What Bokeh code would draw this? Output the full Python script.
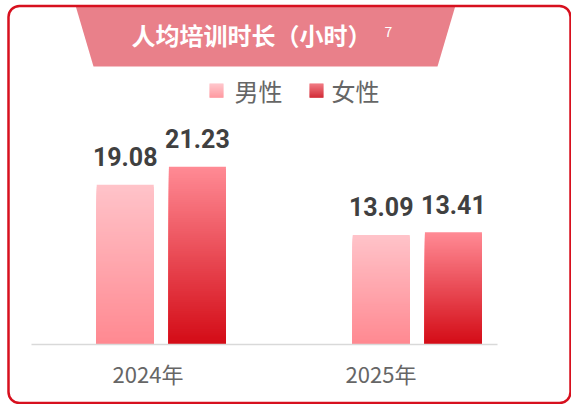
import numpy as np
from bokeh.plotting import figure
from bokeh.models import FactorRange, Range1d, ColumnDataSource
from bokeh.transform import dodge
from bokeh.core.properties import value
from bokeh.embed import file_html
from bokeh.resources import INLINE

# ---------------- data ----------------
years = ["2024年", "2025年"]
male = [19.08, 13.09]
female = [21.23, 13.41]
series_names = ["男性", "女性"]
title_text = "人均培训时长（小时）"
note_mark = "7"

# ---------------- styles ----------------
W, H = 571, 404
PAD = 0.1152
Y0, Y1 = -7.17, 41.10
PX_PER_UNIT = H / (Y1 - Y0)
MALE_TOP, MALE_BOT = "#ffc3c9", "#ff8890"
FEM_TOP, FEM_BOT = "#ff8a94", "#d30a15"
SW_MALE_TOP, SW_MALE_BOT = "#ffc0c6", "#ff8c94"
SW_FEM_TOP, SW_FEM_BOT = "#f06a74", "#cc0f1c"
CARD_RED = "#d7101e"
BANNER = "#e9808a"
N_SLICES = 80


def _rgb(h):
    h = h.lstrip("#")
    return np.array([int(h[i:i + 2], 16) for i in (0, 2, 4)], dtype=float)


def mix(c_bottom, c_top, t):
    c = _rgb(c_bottom) * (1 - t) + _rgb(c_top) * t
    return "#%02x%02x%02x" % tuple(int(round(v)) for v in c)


def sx(px):
    """canvas pixel -> synthetic coordinate of the categorical x range"""
    span = len(years) + 2 * PAD
    return -PAD + np.asarray(px, dtype=float) / W * span


p = figure(width=W, height=H,
           x_range=FactorRange(factors=years, range_padding=PAD,
                               range_padding_units="absolute"),
           y_range=Range1d(Y0, Y1),
           min_border=0, toolbar_location=None, output_backend="svg",
           x_axis_location=None, y_axis_location=None,
           background_fill_color="white", border_fill_color="white",
           outline_line_color=None)
p.grid.visible = False
p.extra_x_ranges = {"lab": FactorRange(factors=years, range_padding=0.2253,
                                       range_padding_units="absolute")}
p.extra_y_ranges = {"px": Range1d(H, 0)}

# card background
p.quad(left=sx(8), right=sx(570), top=5.5, bottom=402.5,
       y_range_name="px", fill_color="white", line_color=None, border_radius=11)

# title banner
p.patch(x=sx([75, 455, 437, 93]), y=[5, 5, 66, 66], y_range_name="px",
        fill_color=BANNER, line_color=None)
p.text(x=sx([251]), y=[34], text=[title_text], y_range_name="px",
       text_align="center", text_baseline="middle", text_color="white",
       text_font=value("Noto Sans CJK SC"), text_font_size="24px",
       text_font_style="bold")
p.text(x=sx([388]), y=[31], text=[note_mark], y_range_name="px",
       text_align="center", text_baseline="middle", text_color="white",
       text_font=value("Noto Sans CJK SC"), text_font_size="14px")

# legend (gradient swatches)
sw = {"l": [], "r": [], "t": [], "b": [], "c": []}
for (x0, ctop, cbot) in [(209, SW_MALE_TOP, SW_MALE_BOT), (309, SW_FEM_TOP, SW_FEM_BOT)]:
    y_top, y_bot = 83.0, 97.0
    n = 14
    for k in range(n):
        t0 = k / n
        t1 = (k + 1) / n
        sw["l"].append(float(sx(x0)))
        sw["r"].append(float(sx(x0 + 14)))
        sw["t"].append(y_top + (y_bot - y_top) * t0)
        sw["b"].append(y_top + (y_bot - y_top) * t1 + 0.3)
        sw["c"].append(mix(cbot, ctop, 1 - (t0 + t1) / 2))
p.quad(left="l", right="r", top="t", bottom="b", fill_color="c", line_color=None,
       source=ColumnDataSource(sw), y_range_name="px")
p.text(x=sx([234, 331]), y=[89.5, 89.5], text=series_names, y_range_name="px",
       text_align="left", text_baseline="middle", text_color="#666666",
       text_font=value("Noto Sans CJK SC"), text_font_size="24px")

# bars as gradient stacks
bw = 0.2227
gap_units = 28 / PX_PER_UNIT
for vals, ctop, cbot, off in [(male, MALE_TOP, MALE_BOT, -0.128),
                              (female, FEM_TOP, FEM_BOT, 0.154)]:
    d = {"year": [], "top": [], "color": []}
    for k in range(N_SLICES):
        f = 1 - k / N_SLICES
        for yr, v in zip(years, vals):
            d["year"].append(yr)
            d["top"].append(f * v)
            d["color"].append(mix(cbot, ctop, f))
    p.vbar(x=dodge("year", off, range=p.x_range), top="top", bottom=0, width=bw,
           fill_color="color", line_color=None, source=ColumnDataSource(d))
    p.text(x=dodge("year", off, range=p.x_range), y="ly", text="lbl",
           source=ColumnDataSource({"year": years,
                                    "ly": [v + gap_units for v in vals],
                                    "lbl": ["%.2f" % v for v in vals]}),
           text_align="center", text_baseline="alphabetic",
           text_color="#404040", text_font=value("Roboto"),
           text_font_size="25px", text_font_style="bold")

# baseline + category labels
p.segment(x0=sx([31]), x1=sx([497]), y0=[344], y1=[344], y_range_name="px",
          line_color="#d9d9d9", line_width=1.5)
p.text(x=years, y=[372, 372], text=years, x_range_name="lab", y_range_name="px",
       x_offset=-21.5, text_align="center", text_baseline="middle",
       text_color="#666666", text_font=value("Noto Sans CJK SC"),
       text_font_size="22px")

# card outline
p.quad(left=sx(8), right=sx(570), top=5.5, bottom=402.5,
       y_range_name="px", fill_color=None, line_color=CARD_RED, line_width=2.5,
       border_radius=11)

open("out.html", "w").write(file_html(p, INLINE))
